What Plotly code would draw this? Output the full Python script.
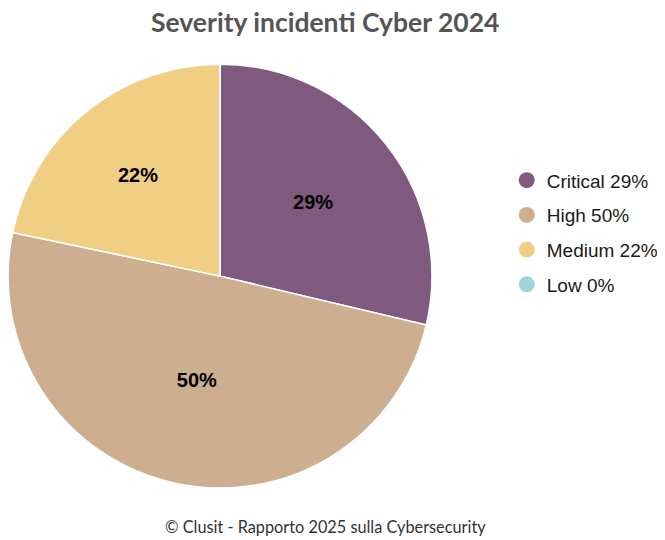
import plotly.graph_objects as go

categories = ["Critical", "High", "Medium", "Low"]
values = [28.7, 49.6, 21.7, 0.0]
colors = ["#805a7e", "#cdae8f", "#f0cf85", "#9dd4d9"]

title_text = "Severity incidenti Cyber 2024"
footer_text = "© Clusit - Rapporto 2025 sulla Cybersecurity"

texts = [f"{v:.0f}%" if v > 0 else "" for v in values]
legend_names = [f"{c} {v:.0f}%" for c, v in zip(categories, values)]

fig = go.Figure()
fig.add_trace(go.Pie(
    labels=categories,
    values=values,
    text=texts,
    textinfo="text",
    textposition="inside",
    insidetextorientation="horizontal",
    textfont=dict(family="Liberation Sans, Arial", size=20, color="#000000", weight="bold"),
    marker=dict(colors=colors, line=dict(color="#ffffff", width=1.5)),
    sort=False,
    direction="clockwise",
    rotation=0,
    showlegend=False,
    hoverinfo="label+percent",
    domain=dict(x=[0.0, 0.6376], y=[0.111, 0.896]),
))

for name, col in zip(legend_names, colors):
    fig.add_trace(go.Scatter(
        x=[None], y=[None], mode="markers", name=name, legendgroup=name,
        marker=dict(symbol="circle", size=16, color=col),
        showlegend=True,
    ))

fig.update_layout(
    width=665, height=540,
    margin=dict(l=0, r=0, t=0, b=0),
    paper_bgcolor="#ffffff",
    plot_bgcolor="#ffffff",
    xaxis=dict(visible=False),
    yaxis=dict(visible=False),
    title=dict(text=title_text, x=0.477, xanchor="center", y=0.972, yanchor="middle",
               font=dict(family="Lato", size=26.5, color="#555555", weight="bold")),
    legend=dict(x=0.75, y=0.716, xanchor="left", yanchor="top",
                font=dict(family="Liberation Sans, Arial", size=19, color="#1a1a1a"),
                itemwidth=30, tracegroupgap=7, bgcolor="rgba(0,0,0,0)"),
    annotations=[dict(text=footer_text, x=0.477, y=0.039, xref="paper", yref="paper",
                      xanchor="center", yanchor="middle", showarrow=False,
                      font=dict(family="Lato", size=16.3, color="#333333"))],
)

fig.write_html("out.html")
